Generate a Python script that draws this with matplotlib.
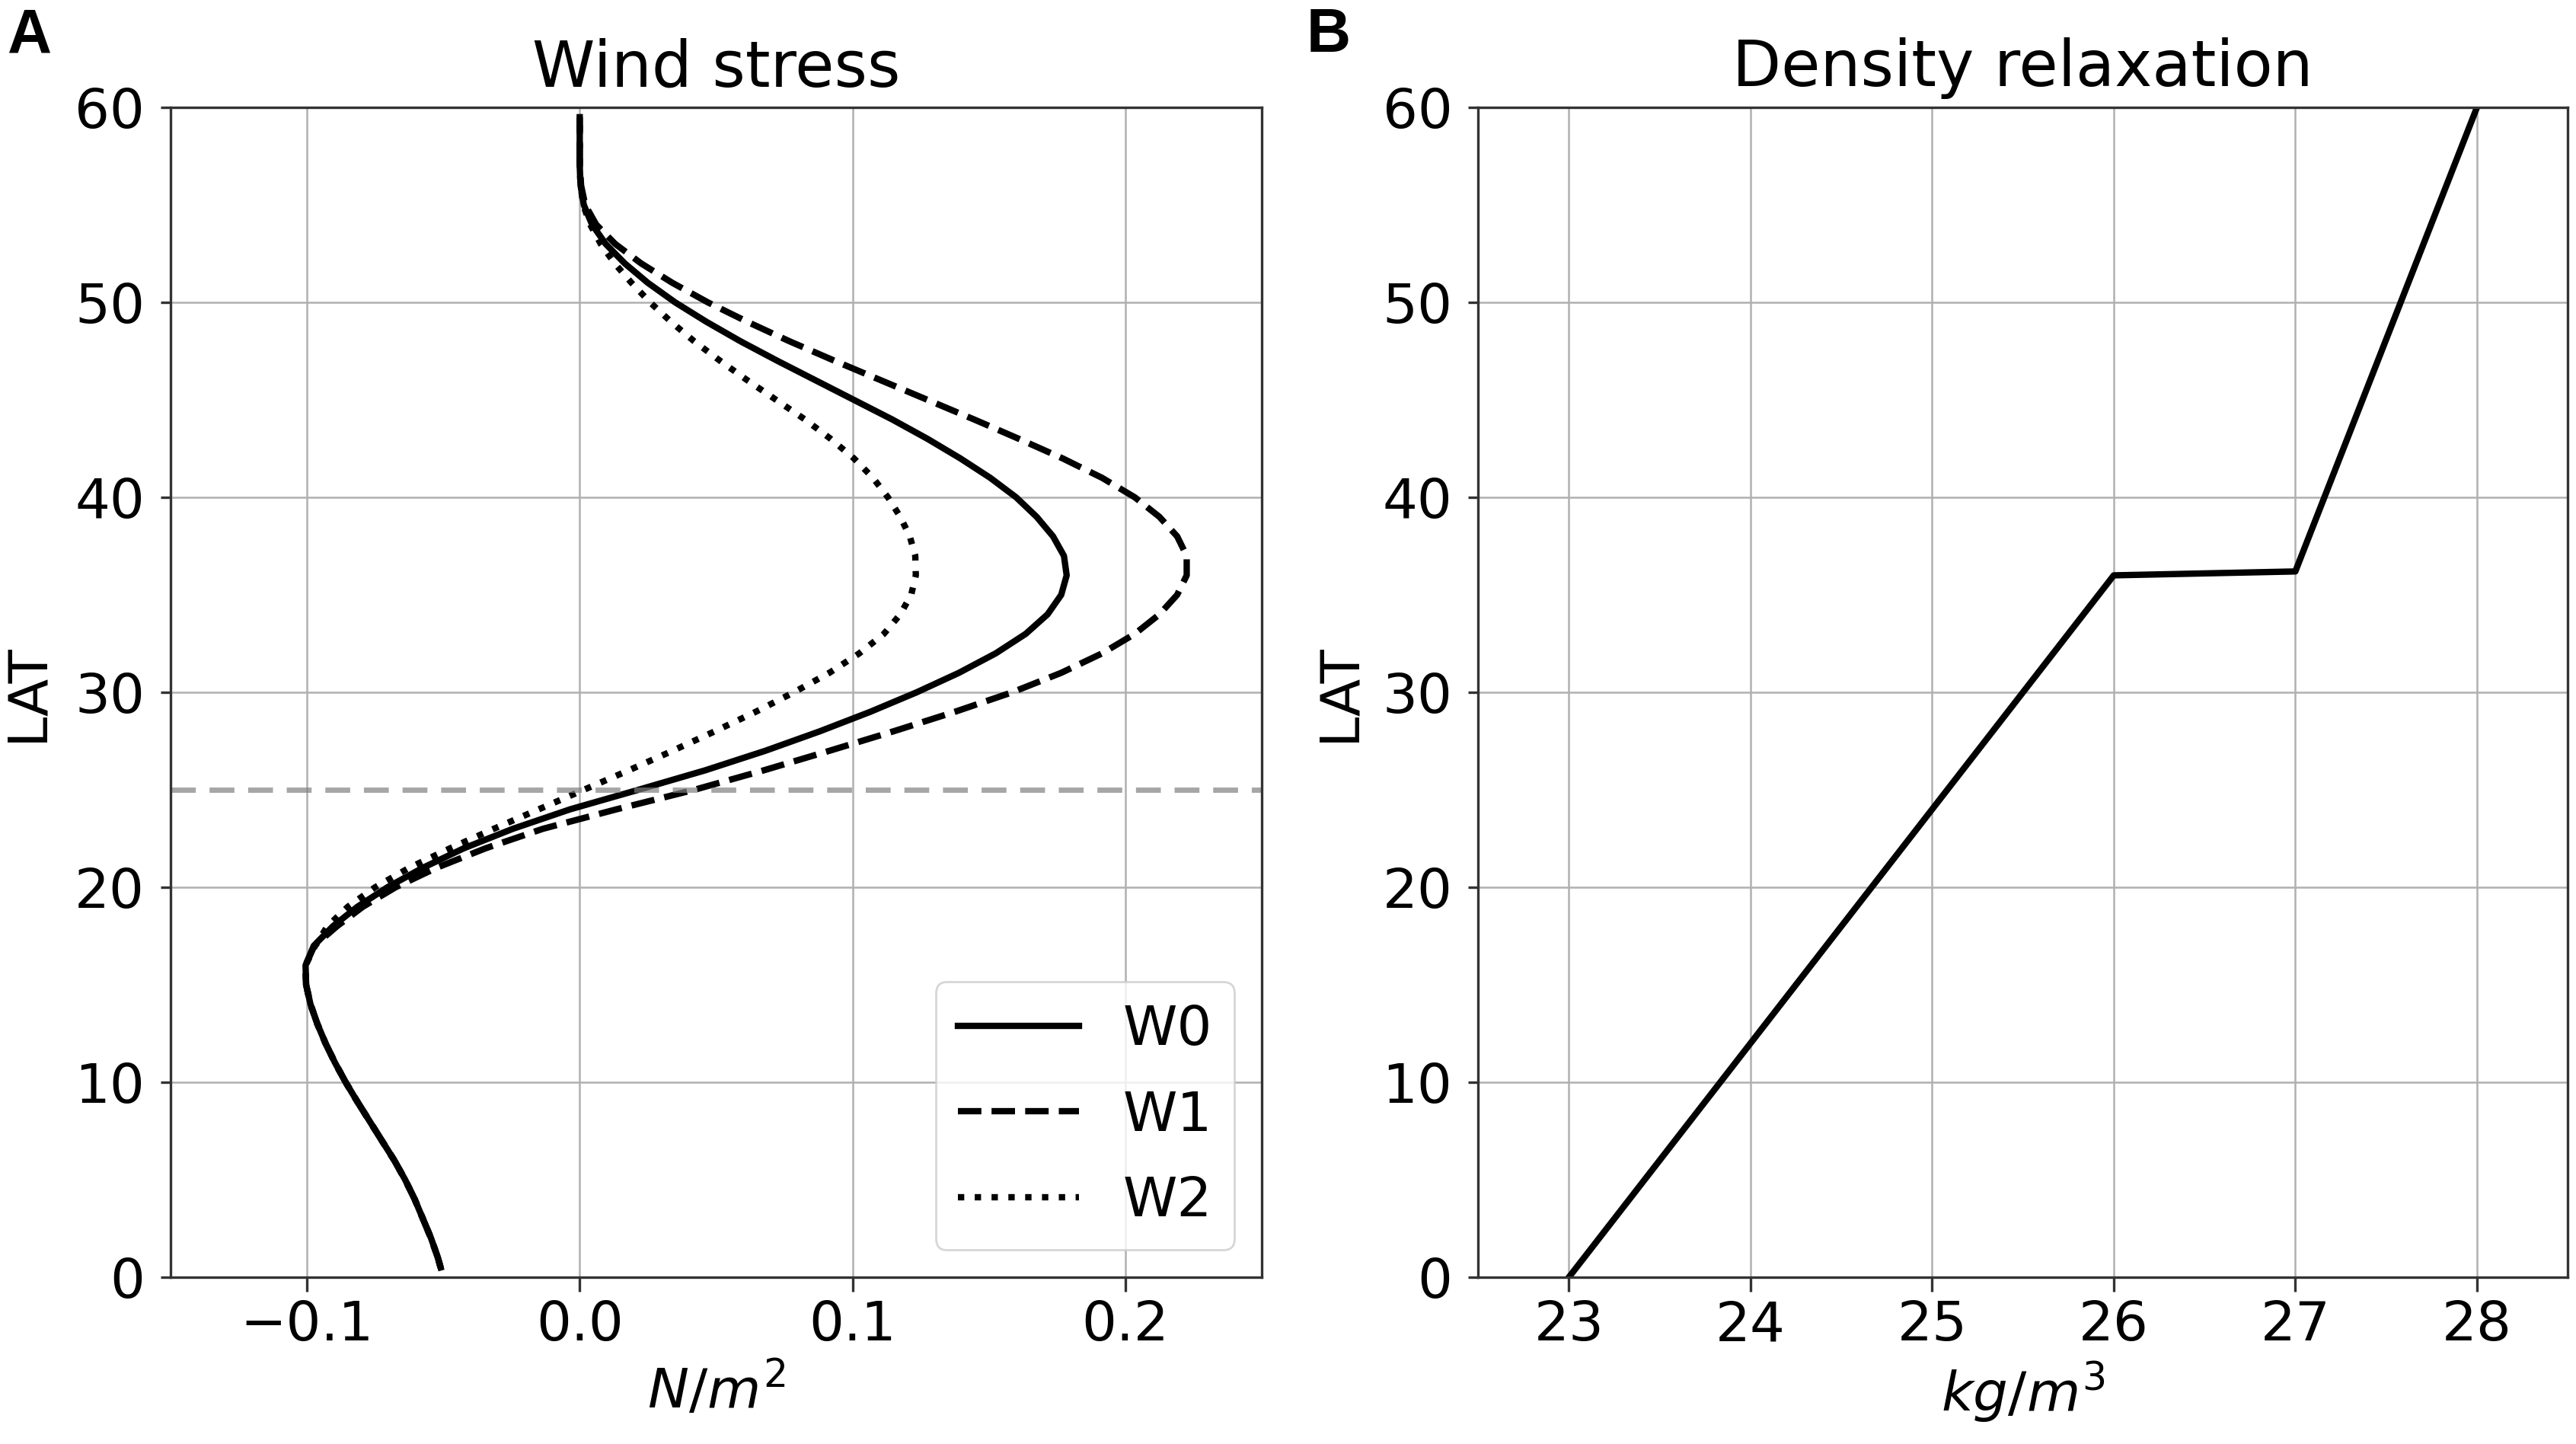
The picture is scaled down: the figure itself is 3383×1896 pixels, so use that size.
import matplotlib
matplotlib.use("Agg")
import matplotlib.pyplot as plt

# latitude grid for the wind stress profiles
LAT_W = [0.5, 1, 2, 3, 4, 5, 6, 7, 8, 9, 10, 11, 12, 13, 14, 15, 16, 17, 18, 19,
         20, 21, 22, 23, 24, 25, 26, 27, 28, 29, 30, 31, 32, 33, 34, 35, 36, 37, 38, 39,
         40, 41, 42, 43, 44, 45, 46, 47, 48, 49, 50, 51, 52, 53, 54, 55, 56, 57, 58, 59, 59.5]

W0 = [-0.051, -0.052, -0.0545, -0.0575, -0.0605, -0.064, -0.068, -0.0725, -0.077, -0.0815,
      -0.0858, -0.0897, -0.0932, -0.0962, -0.0987, -0.1003, -0.1005, -0.0975, -0.0905, -0.0815,
      -0.0705, -0.0575, -0.0425, -0.0245, -0.0035, 0.0215, 0.046, 0.068, 0.088, 0.1065,
      0.1235, 0.139, 0.1525, 0.1635, 0.1715, 0.1765, 0.1785, 0.1775, 0.1735, 0.1675,
      0.160, 0.1505, 0.1395, 0.1275, 0.1145, 0.1005, 0.0865, 0.0725, 0.059, 0.0465,
      0.035, 0.025, 0.0165, 0.0095, 0.0045, 0.0015, 0.0003, 0.0, 0.0, 0.0, 0.0]

W1 = [-0.051, -0.052, -0.0545, -0.0575, -0.0605, -0.064, -0.068, -0.0725, -0.077, -0.0815,
      -0.0858, -0.0897, -0.0932, -0.0962, -0.0987, -0.1003, -0.1005, -0.0973, -0.089, -0.0795,
      -0.0675, -0.0525, -0.0345, -0.0135, 0.0135, 0.042, 0.0675, 0.0915, 0.115, 0.1375,
      0.1585, 0.1765, 0.1915, 0.2035, 0.2125, 0.219, 0.2225, 0.2225, 0.219, 0.2125,
      0.2035, 0.1915, 0.177, 0.161, 0.1445, 0.1275, 0.1105, 0.0935, 0.077, 0.0615,
      0.047, 0.034, 0.0225, 0.013, 0.006, 0.002, 0.0005, 0.0, 0.0, 0.0, 0.0]

W2 = [-0.051, -0.052, -0.0545, -0.0575, -0.0605, -0.064, -0.068, -0.0725, -0.077, -0.0815,
      -0.0858, -0.0897, -0.0932, -0.0962, -0.0987, -0.1003, -0.1005, -0.097, -0.0925, -0.085,
      -0.075, -0.0625, -0.0475, -0.0315, -0.015, 0.0015, 0.018, 0.034, 0.0495, 0.0645,
      0.0785, 0.0915, 0.1025, 0.1115, 0.1175, 0.1215, 0.1232, 0.123, 0.121, 0.1175,
      0.113, 0.1075, 0.1005, 0.092, 0.0825, 0.072, 0.0615, 0.0515, 0.042, 0.0335,
      0.0258, 0.019, 0.0128, 0.0077, 0.0038, 0.0013, 0.0003, 0.0, 0.0, 0.0, 0.0]

WIND_NAMES = ["W0", "W1", "W2"]
REF_LAT = 25

# density relaxation profile
DENS = [23, 26, 27, 28]
DENS_LAT = [0, 36, 36.2, 60]

plt.rcParams["font.family"] = "DejaVu Sans"
plt.rcParams["axes.edgecolor"] = "#333333"
plt.rcParams["axes.linewidth"] = 1.2
plt.rcParams["grid.color"] = "#b0b0b0"
plt.rcParams["grid.linewidth"] = 0.9

fig = plt.figure(figsize=(16.915, 9.48), dpi=200)
ax1 = fig.add_axes([0.0662, 0.1155, 0.4236, 0.8101])
ax2 = fig.add_axes([0.5738, 0.1155, 0.4230, 0.8101])

LW = 3.0
for vals, name, ls in zip([W0, W1, W2], WIND_NAMES, ["-", "--", ":"]):
    ax1.plot(vals, LAT_W, color="black", linewidth=LW, linestyle=ls, label=name)
ax1.axhline(REF_LAT, color="gray", alpha=0.7, linewidth=2.5, dashes=(4.7, 2.6))

ax1.set_xlim(-0.15, 0.25)
ax1.set_ylim(0, 60)
ax1.set_xticks([-0.1, 0.0, 0.1, 0.2])
ax1.set_title("Wind stress", fontsize=30, pad=10)
ax1.set_xlabel(r"$N/m^2$", fontsize=26)
ax1.set_ylabel("LAT", fontsize=26, labelpad=10)
ax1.legend(loc="lower right", fontsize=26, handlelength=2.2, labelspacing=0.6)

ax2.plot(DENS, DENS_LAT, color="black", linewidth=LW)
ax2.set_xlim(22.5, 28.5)
ax2.set_ylim(0, 60)
ax2.set_xticks([23, 24, 25, 26, 27, 28])
ax2.set_title("Density relaxation", fontsize=30, pad=10)
ax2.set_xlabel(r"$kg/m^3$", fontsize=26)
ax2.set_ylabel("LAT", fontsize=26, labelpad=8)

for ax in (ax1, ax2):
    ax.set_yticks([0, 10, 20, 30, 40, 50, 60])
    ax.grid(True)
    ax.set_axisbelow(True)
    ax.tick_params(axis="both", labelsize=26, width=1.2, color="#333333")
    ax.tick_params(axis="x", length=7, pad=3.5)
    ax.tick_params(axis="y", length=4.7, pad=7.5)

fig.text(0.003, 0.995, "A", fontsize=29, fontweight="bold",
         family="Liberation Sans", va="top", ha="left")
fig.text(0.507, 0.995, "B", fontsize=29, fontweight="bold",
         family="Liberation Sans", va="top", ha="left")

fig.savefig("out.png", dpi=200, facecolor="white")
